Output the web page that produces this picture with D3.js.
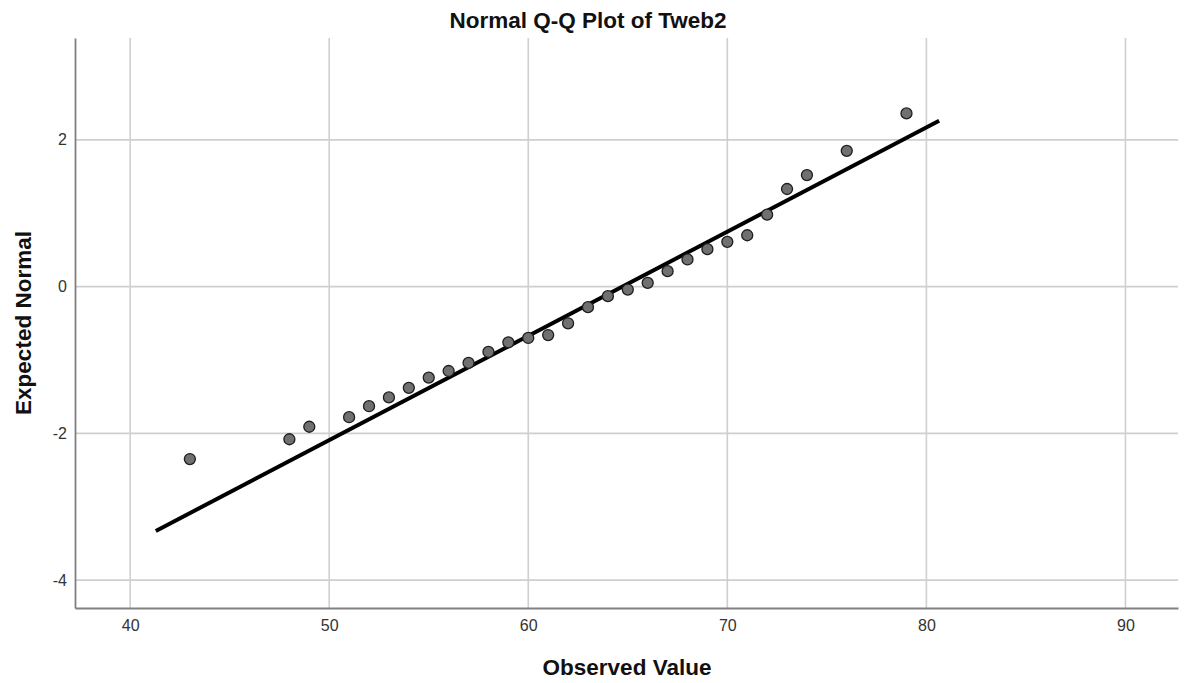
<!DOCTYPE html>
<html>
<head>
<meta charset="utf-8">
<script src="https://cdn.jsdelivr.net/npm/d3@7"></script>
<style>
  body { margin: 0; background: #fff; }
  svg { display: block; font-family: "Liberation Sans", Arial, sans-serif; }
</style>
</head>
<body>
<div id="main"></div>
<script>
// observed values and their expected normal scores
const observed = [43, 48, 49, 51, 52, 53, 54, 55, 56, 57, 58, 59, 60, 61, 62, 63, 64, 65,
  66, 67, 68, 69, 70, 71, 72, 73, 74, 76, 79];
const expected = [-2.35, -2.08, -1.91, -1.78, -1.63, -1.51, -1.38, -1.24, -1.15, -1.04, -0.89,
  -0.76, -0.70, -0.66, -0.50, -0.28, -0.13, -0.04, 0.05, 0.21, 0.37, 0.51, 0.61, 0.70, 0.98,
  1.33, 1.52, 1.85, 2.36];
// reference line end points
const lineX = [41.29, 80.64];
const lineY = [-3.33, 2.26];
const xTicks = [40, 50, 60, 70, 80, 90];
const yTicks = [-4, -2, 0, 2];

const width = 1187;
const height = 683;
const plotLeft = 75, plotRight = 1178, plotTop = 38, plotBottom = 608;

const x = d3.scaleLinear().domain([37.23, 92.64]).range([plotLeft, plotRight]);
const y = d3.scaleLinear().domain([-4.38, 3.388]).range([plotBottom, plotTop]);

const svg = d3.select("#main").append("svg").attr("width", width).attr("height", height);

// grid
svg.append("g")
  .selectAll("line")
  .data(xTicks)
  .enter()
  .append("line")
  .attr("x1", (d) => x(d)).attr("x2", (d) => x(d))
  .attr("y1", plotTop).attr("y2", plotBottom)
  .attr("stroke", "#cfcfcf").attr("stroke-width", 1.6);

svg.append("g")
  .selectAll("line")
  .data(yTicks)
  .enter()
  .append("line")
  .attr("x1", plotLeft).attr("x2", plotRight)
  .attr("y1", (d) => y(d)).attr("y2", (d) => y(d))
  .attr("stroke", "#cfcfcf").attr("stroke-width", 1.6);

// axes (plain hyphen for negatives, like the original)
const fmt = (d) => String(d);
const xAxis = svg.append("g")
  .attr("transform", `translate(0, ${plotBottom})`)
  .call(d3.axisBottom(x).tickValues(xTicks).tickFormat(fmt).tickSize(0).tickPadding(12));
const yAxis = svg.append("g")
  .attr("transform", `translate(${plotLeft}, 0)`)
  .call(d3.axisLeft(y).tickValues(yTicks).tickFormat(fmt).tickSize(0).tickPadding(8));

[xAxis, yAxis].forEach((g) => {
  g.select(".domain").attr("stroke", "#808080").attr("stroke-width", 1.8);
  g.selectAll("text")
    .attr("font-size", 16)
    .attr("fill", "#333")
    .attr("font-family", "\"Liberation Sans\", Arial, sans-serif");
});

// reference line
svg.append("line")
  .attr("x1", x(lineX[0])).attr("y1", y(lineY[0]))
  .attr("x2", x(lineX[1])).attr("y2", y(lineY[1]))
  .attr("stroke", "#000").attr("stroke-width", 4);

// points
svg.append("g")
  .selectAll("circle")
  .data(observed)
  .enter()
  .append("circle")
  .attr("cx", (d) => x(d))
  .attr("cy", (d, i) => y(expected[i]))
  .attr("r", 5.5)
  .attr("fill", "#707070")
  .attr("stroke", "#1e1e1e")
  .attr("stroke-width", 1.3);

// titles
svg.append("text")
  .attr("x", 588).attr("y", 28)
  .attr("text-anchor", "middle")
  .attr("font-size", 22.5).attr("font-weight", "bold").attr("fill", "#111")
  .text("Normal Q-Q Plot of Tweb2");

svg.append("text")
  .attr("x", 627).attr("y", 675)
  .attr("text-anchor", "middle")
  .attr("font-size", 22.5).attr("font-weight", "bold").attr("fill", "#111")
  .text("Observed Value");

svg.append("text")
  .attr("transform", "translate(31, 323) rotate(-90)")
  .attr("text-anchor", "middle")
  .attr("font-size", 22.5).attr("font-weight", "bold").attr("fill", "#111")
  .text("Expected Normal");
</script>
</body>
</html>
